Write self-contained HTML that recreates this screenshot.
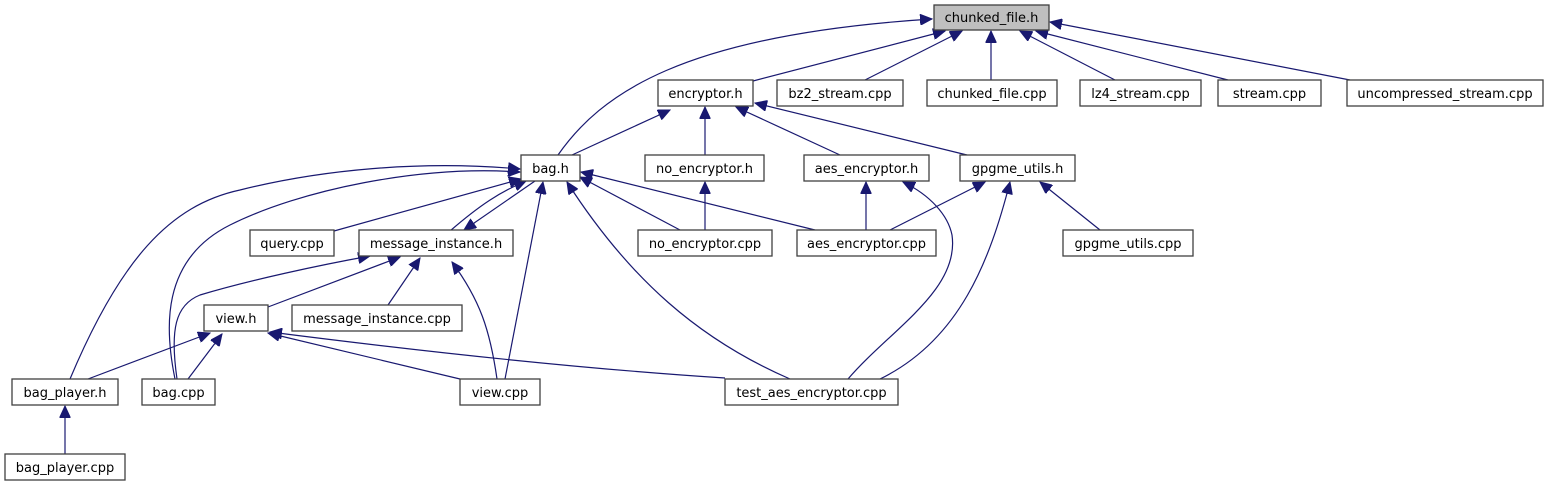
<!DOCTYPE html>
<html><head><meta charset="utf-8"><style>
html,body{margin:0;padding:0;background:#fff;}
svg{display:block}
text{font-family:"DejaVu Sans","Liberation Sans",sans-serif;font-size:13px;fill:#000}
rect{fill:#fff;stroke:#404040;stroke-width:1.3}
path{fill:none;stroke:#191970;stroke-width:1.2}
</style></head><body>
<svg width="1549" height="485" viewBox="0 0 1549 485" xmlns="http://www.w3.org/2000/svg">
<defs><marker id="a" markerUnits="userSpaceOnUse" markerWidth="13" markerHeight="11" refX="12" refY="5.5" orient="auto"><path d="M0,0 L12,5.5 L0,11 Z" style="fill:#191970;stroke:#191970;stroke-width:1"/></marker></defs>
<g marker-end="url(#a)">
<path d="M558,155 C600,95 680,35 932,19"/>
<path d="M753,81 L945,31"/>
<path d="M865,80 L962,31"/>
<path d="M991,80 L991,31"/>
<path d="M1115,80 L1020,31"/>
<path d="M1228,80 L1036,31"/>
<path d="M1350,80 L1050,22"/>
<path d="M572,155 L670,110"/>
<path d="M705,155 L705,107"/>
<path d="M840,155 L736,107"/>
<path d="M967,155 L755,103"/>
<path d="M705,230 L705,182"/>
<path d="M866,230 L866,182"/>
<path d="M890,230 L985,182"/>
<path d="M1100,230 L1040,182"/>
<path d="M848,379 C890,330 960,290 952,235 C948,215 930,195 903,182"/>
<path d="M880,379 C960,340 990,260 1010,182"/>
<path d="M790,379 C700,340 630,280 567,182"/>
<path d="M334,231 L521,179"/>
<path d="M450,231 C480,205 500,192 526,181"/>
<path d="M535,181 L464,230"/>
<path d="M680,230 L580,177"/>
<path d="M815,230 L581,172"/>
<path d="M505,379 L543,182"/>
<path d="M70,379 C120,260 170,205 240,190 C320,170 420,160 520,169"/>
<path d="M175,379 C165,330 160,260 230,225 C300,190 420,165 520,172"/>
<path d="M268,307 L400,257"/>
<path d="M177,379 C170,330 175,305 200,295 C250,280 320,265 370,256"/>
<path d="M388,305 L420,258"/>
<path d="M497,379 C490,330 480,300 452,262"/>
<path d="M88,379 L210,333"/>
<path d="M188,379 L222,334"/>
<path d="M460,379 L268,333"/>
<path d="M725,378 C600,370 450,355 270,332"/>
<path d="M65,454 L65,406"/>
</g>
<rect x="934" y="5" width="115" height="25" style="fill:#bfbfbf"/><text x="991.5" y="22" text-anchor="middle">chunked_file.h</text>
<rect x="658" y="80" width="95" height="26"/><text x="705.5" y="98" text-anchor="middle">encryptor.h</text>
<rect x="777" y="80" width="126" height="26"/><text x="840" y="98" text-anchor="middle">bz2_stream.cpp</text>
<rect x="927" y="80" width="130" height="26"/><text x="992" y="98" text-anchor="middle">chunked_file.cpp</text>
<rect x="1080" y="80" width="121" height="26"/><text x="1140.5" y="98" text-anchor="middle">lz4_stream.cpp</text>
<rect x="1218" y="80" width="103" height="26"/><text x="1269.5" y="98" text-anchor="middle">stream.cpp</text>
<rect x="1347" y="80" width="196" height="26"/><text x="1445" y="98" text-anchor="middle">uncompressed_stream.cpp</text>
<rect x="521" y="155" width="59" height="26"/><text x="550.5" y="173" text-anchor="middle">bag.h</text>
<rect x="645" y="155" width="119" height="26"/><text x="704.5" y="173" text-anchor="middle">no_encryptor.h</text>
<rect x="804" y="155" width="125" height="26"/><text x="866.5" y="173" text-anchor="middle">aes_encryptor.h</text>
<rect x="960" y="155" width="115" height="26"/><text x="1017.5" y="173" text-anchor="middle">gpgme_utils.h</text>
<rect x="250" y="230" width="84" height="26"/><text x="292" y="248" text-anchor="middle">query.cpp</text>
<rect x="359" y="230" width="154" height="26"/><text x="436" y="248" text-anchor="middle">message_instance.h</text>
<rect x="638" y="230" width="134" height="26"/><text x="705" y="248" text-anchor="middle">no_encryptor.cpp</text>
<rect x="797" y="230" width="139" height="26"/><text x="866.5" y="248" text-anchor="middle">aes_encryptor.cpp</text>
<rect x="1063" y="230" width="130" height="26"/><text x="1128" y="248" text-anchor="middle">gpgme_utils.cpp</text>
<rect x="204" y="305" width="64" height="26"/><text x="236" y="323" text-anchor="middle">view.h</text>
<rect x="292" y="305" width="170" height="26"/><text x="377" y="323" text-anchor="middle">message_instance.cpp</text>
<rect x="12" y="379" width="106" height="26"/><text x="65" y="397" text-anchor="middle">bag_player.h</text>
<rect x="142" y="379" width="73" height="26"/><text x="178.5" y="397" text-anchor="middle">bag.cpp</text>
<rect x="460" y="379" width="80" height="26"/><text x="500" y="397" text-anchor="middle">view.cpp</text>
<rect x="725" y="379" width="173" height="26"/><text x="811.5" y="397" text-anchor="middle">test_aes_encryptor.cpp</text>
<rect x="5" y="454" width="120" height="26"/><text x="65" y="472" text-anchor="middle">bag_player.cpp</text>
</svg>
</body></html>
